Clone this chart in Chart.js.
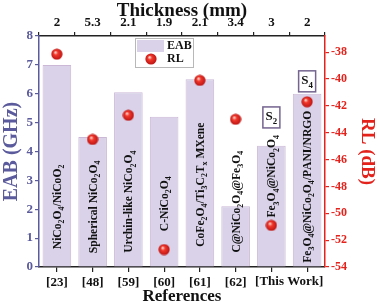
<!DOCTYPE html>
<html lang="en">
<head>
<meta charset="UTF-8">
<title>EAB / RL comparison</title>
<script src="https://cdn.jsdelivr.net/npm/chart.js"></script>
<style>
  html, body { margin: 0; padding: 0; background: #fff; }
  #wrap { width: 378px; height: 307px; }
</style>
</head>
<body>
<div id="wrap"><canvas id="chart" width="378" height="307"></canvas></div>
<script>
// data
const refs = ['[23]', '[48]', '[59]', '[60]', '[61]', '[62]', '', ''];
const thisWork = '[This Work]';
const thickness = ['2', '5.3', '2.1', '1.9', '2.1', '3.4', '3', '2'];
const eab = [7.0, 4.5, 6.05, 5.2, 6.5, 2.1, 4.2, 6.0];
const rl = [-38.15, -44.5, -42.7, -52.7, -40.1, -43.0, -50.9, -41.7];
const rlTicks = [-54, -52, -50, -48, -46, -44, -42, -40, -38];
const materials = ['NiCo_2O_4/NiCoO_2', 'Spherical NiCo_2O_4', 'Urchin-like NiCo_2O_4', 'C-NiCo_2O_4',
  'CoFe_2O_4/Ti_3C_2T_x MXene', 'C@NiCo_2O_4@Fe_3O_4', 'Fe_3O_4@NiCo_2O_4', 'Fe_3O_4@NiCo_2O_4/PANI/NRGO'];
const materialMid = [2.08, 2.08, 2.26, 2.19, 2.85, 2.26, 3.14, 2.78];   // label centre, EAB units
const sampleTags = ['', '', '', '', '', '', 'S_2', 'S_4'];
const tagMid = [0, 0, 0, 0, 0, 0, 5.18, 6.43];

const SERIF = '"Liberation Serif", "DejaVu Serif", serif';
const BLUE = '#5a5a9c';
const RED = '#e3221c';

// shiny red dot
const dot = document.createElement('canvas');
dot.width = 12; dot.height = 12;
(function () {
  const c = dot.getContext('2d');
  const g = c.createRadialGradient(4.5, 4.2, 0.5, 6, 6, 6);
  g.addColorStop(0, '#ffd0c8');
  g.addColorStop(0.3, '#f2392c');
  g.addColorStop(1, '#b81010');
  c.fillStyle = g;
  c.beginPath(); c.arc(6, 6, 5.6, 0, Math.PI * 2); c.fill();
})();

// draws text where "_x" means subscript x, starting at (x, y) baseline
function subText(ctx, str, x, y, size, measureOnly) {
  let w = 0;
  for (let i = 0; i < str.length; i++) {
    let ch = str[i], sub = false;
    if (ch === '_' && i + 1 < str.length) { ch = str[++i]; sub = true; }
    const fs = sub ? size * 0.68 : size;
    ctx.font = 'bold ' + fs + 'px ' + SERIF;
    if (!measureOnly) ctx.fillText(ch, x + w, sub ? y + size * 0.28 : y);
    w += ctx.measureText(ch).width;
  }
  return w;
}

const annotations = {
  id: 'annotations',
  afterDatasetDraw(chart, args) {
    if (args.meta.type !== 'bar') return;
    const ctx = chart.ctx, xs = chart.scales.x, ys = chart.scales.y;
    ctx.save();
    ctx.fillStyle = '#111';
    ctx.textBaseline = 'alphabetic';
    materials.forEach((m, i) => {
      const cx = xs.getPixelForValue(i), cy = ys.getPixelForValue(materialMid[i]);
      const w = subText(ctx, m, 0, 0, 11.6, true);
      ctx.save();
      ctx.translate(cx + 4, cy);
      ctx.rotate(-Math.PI / 2);
      subText(ctx, m, -w / 2, 0, 11.6, false);
      ctx.restore();
    });
    ctx.restore();
  },
  afterDraw(chart) {
    const ctx = chart.ctx, xs = chart.scales.x, ys = chart.scales.y;
    ctx.save();
    // [This Work] label between the last two bars
    ctx.font = 'bold 13px ' + SERIF;
    ctx.fillStyle = '#111';
    ctx.textAlign = 'center';
    ctx.textBaseline = 'top';
    ctx.fillText(thisWork, (xs.getPixelForValue(6) + xs.getPixelForValue(7)) / 2, xs.top + 8);

    // sample tags
    ctx.textAlign = 'left';
    ctx.textBaseline = 'alphabetic';
    sampleTags.forEach((t, i) => {
      if (!t) return;
      const cx = xs.getPixelForValue(i), cy = ys.getPixelForValue(tagMid[i]);
      ctx.fillStyle = '#fff';
      ctx.strokeStyle = '#74648f';
      ctx.lineWidth = 1.5;
      ctx.fillRect(cx - 8.5, cy - 10.5, 17, 21);
      ctx.strokeRect(cx - 8.5, cy - 10.5, 17, 21);
      ctx.fillStyle = '#111';
      const w = subText(ctx, t, 0, 0, 13, true);
      subText(ctx, t, cx - w / 2, cy + 3, 13, false);
    });

    // legend
    const lx = 135, ly = 38;
    ctx.fillStyle = '#fff';
    ctx.fillRect(lx, ly, 58, 29);
    ctx.strokeStyle = '#b8b8b8';
    ctx.lineWidth = 1;
    ctx.strokeRect(lx + 0.5, ly + 0.5, 58, 29);
    ctx.fillStyle = '#d9d2e9';
    ctx.fillRect(lx + 2, ly + 2, 27, 12);
    ctx.drawImage(dot, lx + 10, ly + 15);
    ctx.fillStyle = '#111';
    ctx.font = 'bold 12px ' + SERIF;
    ctx.textBaseline = 'middle';
    ctx.fillText('EAB', lx + 32, ly + 8);
    ctx.fillText('RL', lx + 32, ly + 21);
    ctx.restore();
  }
};

const tickFont = { family: SERIF, size: 13, weight: 'bold' };
const titleFont = { family: SERIF, size: 19, weight: 'bold' };

new Chart(document.getElementById('chart'), {
  data: {
    labels: refs,
    datasets: [
      {
        type: 'bar',
        label: 'EAB',
        data: eab,
        xAxisID: 'x', yAxisID: 'y',
        backgroundColor: '#d9d2e9',
        borderColor: '#cbb8d6',
        borderWidth: 1,
        barPercentage: 0.8,
        categoryPercentage: 1,
        order: 1
      },
      {
        type: 'line',
        label: 'RL',
        data: rl,
        xAxisID: 'x', yAxisID: 'y2',
        showLine: false,
        pointStyle: dot,
        pointRadius: 6,
        order: 0
      }
    ]
  },
  plugins: [annotations],
  options: {
    responsive: false,
    animation: false,
    layout: { padding: 0 },
    plugins: { legend: { display: false }, tooltip: { enabled: false } },
    scales: {
      x: {
        type: 'category', position: 'bottom', offset: true,
        grid: { drawOnChartArea: false, offset: false, tickLength: 5, tickColor: '#222', lineWidth: 1.2 },
        border: { color: '#222', width: 1.5 },
        ticks: { font: tickFont, color: '#111', maxRotation: 0, autoSkip: false, padding: 3 },
        title: { display: true, text: 'References', color: '#111', font: { family: SERIF, size: 17, weight: 'bold' }, padding: 0 },
        afterFit(s) { s.height = 40; }
      },
      x2: {
        type: 'category', position: 'top', offset: true, labels: thickness,
        grid: { drawOnChartArea: false, offset: true, tickLength: 4, tickColor: '#222', lineWidth: 1.2 },
        border: { color: '#222', width: 1.5 },
        ticks: { font: tickFont, color: '#111', maxRotation: 0, autoSkip: false, padding: 2 },
        title: { display: true, text: 'Thickness (mm)', color: '#111', font: titleFont, padding: 0 },
        afterFit(s) { s.height = 36; }
      },
      y: {
        position: 'left', min: 0, max: 8,
        grid: { drawOnChartArea: false, tickLength: 4, tickColor: BLUE, lineWidth: 1.2 },
        border: { color: BLUE, width: 1.5 },
        ticks: { stepSize: 1, font: tickFont, color: BLUE, padding: 2 },
        title: { display: true, text: 'EAB (GHz)', color: BLUE, font: { family: SERIF, size: 20, weight: 'bold' }, padding: 0 },
        afterFit(s) { s.width = 39; }
      },
      y2: {
        position: 'right', min: -54, max: -36.8,
        grid: { drawOnChartArea: false, tickLength: 4, tickColor: RED, lineWidth: 1.2 },
        border: { color: RED, width: 1.5 },
        ticks: { font: { family: SERIF, size: 12, weight: 'bold' }, color: RED, padding: 2 },
        afterBuildTicks(s) { s.ticks = rlTicks.map(v => ({ value: v })); },
        title: { display: true, text: 'RL (dB)', color: RED, font: titleFont, padding: 0 },
        afterFit(s) { s.width = 53; }
      }
    }
  }
});
</script>
</body>
</html>
